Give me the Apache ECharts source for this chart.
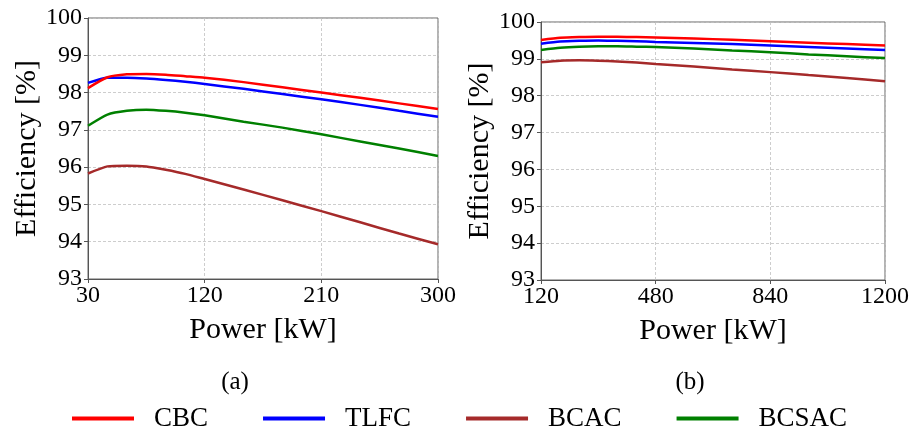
<!DOCTYPE html>
<html><head><meta charset="utf-8">
<script src="https://cdn.jsdelivr.net/npm/echarts@6/dist/echarts.min.js"></script>
<style>html,body{margin:0;padding:0;background:#fff}#c{width:912px;height:433px}</style>
</head><body><div id="c"></div>
<script>
// Left panel (a)
const powerA = [30,45,60,75,90,105,120,150,180,210,240,270,300];
const cbcA   = [98.12,98.41,98.49,98.50,98.48,98.44,98.40,98.28,98.14,98.00,97.86,97.71,97.56];
const tlfcA  = [98.26,98.40,98.40,98.38,98.34,98.29,98.23,98.10,97.96,97.82,97.67,97.51,97.35];
const bcacA  = [95.83,96.02,96.04,96.02,95.93,95.82,95.68,95.40,95.11,94.82,94.52,94.22,93.93];
const bcsacA = [97.11,97.41,97.51,97.54,97.51,97.46,97.39,97.22,97.06,96.88,96.69,96.50,96.30];
// Right panel (b)
const powerB = [120,180,240,300,360,420,480,600,720,840,960,1080,1200];
const cbcB   = [99.51,99.57,99.59,99.60,99.60,99.59,99.58,99.55,99.52,99.48,99.44,99.40,99.36];
const tlfcB  = [99.41,99.47,99.49,99.50,99.49,99.48,99.46,99.43,99.40,99.36,99.32,99.28,99.24];
const bcacB  = [98.91,98.95,98.96,98.95,98.93,98.90,98.86,98.79,98.71,98.64,98.56,98.48,98.39];
const bcsacB = [99.24,99.30,99.33,99.34,99.34,99.33,99.32,99.28,99.23,99.18,99.12,99.07,99.02];
const names = ['CBC','TLFC','BCAC','BCSAC'];
const colors = ['#ff0000','#0000ff','#a52a2a','#008000'];
const captions = ['(a)','(b)'];

const FONT = 'Liberation Serif';
const chart = echarts.init(document.getElementById('c'), null, {renderer:'canvas'});
function zip(x,y){return x.map((v,i)=>[v,y[i]]);}
const dataA=[cbcA,tlfcA,bcacA,bcsacA], dataB=[cbcB,tlfcB,bcacB,bcsacB];
const series=[];
names.forEach((n,i)=>{
  series.push({name:n,type:'line',xAxisIndex:0,yAxisIndex:0,data:zip(powerA,dataA[i]),symbol:'none',smooth:0.2,
    lineStyle:{color:colors[i],width:2.5},itemStyle:{color:colors[i]},z:10-i});
  series.push({name:n,type:'line',xAxisIndex:1,yAxisIndex:1,data:zip(powerB,dataB[i]),symbol:'none',smooth:0.2,
    lineStyle:{color:colors[i],width:2.5},itemStyle:{color:colors[i]},z:10-i});
});
function xAx(gi,min,max,interval){
  return {type:'value',gridIndex:gi,min:min,max:max,interval:interval,
    name:'Power [kW]',nameLocation:'middle',nameGap:36,
    nameTextStyle:{fontFamily:FONT,fontSize:30,color:'#000'},
    axisLine:{show:true,onZero:false,lineStyle:{color:'#555',width:1}},
    axisTick:{show:true,length:4,lineStyle:{color:'#555'}},
    axisLabel:{fontFamily:FONT,fontSize:24,color:'#000',margin:5,formatter:v=>String(v)},
    splitLine:{show:true,lineStyle:{color:'#c0c0c0',type:[3,2],width:0.8}}};
}
function yAx(gi){
  return {type:'value',gridIndex:gi,min:93,max:100,interval:1,
    name:'Efficiency [%]',nameLocation:'middle',nameGap:45,
    nameTextStyle:{fontFamily:FONT,fontSize:30,color:'#000'},
    axisLine:{show:true,lineStyle:{color:'#555',width:1}},
    axisTick:{show:true,length:4,lineStyle:{color:'#555'}},
    axisLabel:{fontFamily:FONT,fontSize:24,color:'#000',margin:6,formatter:v=>String(v)},
    splitLine:{show:true,lineStyle:{color:'#c0c0c0',type:[3,2],width:0.8}}};
}
chart.setOption({
  animation:false,
  backgroundColor:'#fff',
  textStyle:{fontFamily:FONT},
  title:[
    {text:captions[0],left:230,top:365,textAlign:'center',textStyle:{fontFamily:FONT,fontSize:25,fontWeight:'normal',color:'#000'}},
    {text:captions[1],left:685,top:365,textAlign:'center',textStyle:{fontFamily:FONT,fontSize:25,fontWeight:'normal',color:'#000'}}
  ],
  legend:{data:names,left:72,top:405,padding:0,icon:'rect',itemWidth:62,itemHeight:4,itemGap:55,
    textStyle:{fontFamily:FONT,fontSize:27,color:'#000',padding:[0,0,0,15]}},
  grid:[
    {left:88,top:18,width:350,height:261,show:true,borderColor:'#666',borderWidth:1,containLabel:false},
    {left:541,top:22,width:345,height:258,show:true,borderColor:'#666',borderWidth:1,containLabel:false}
  ],
  xAxis:[xAx(0,30,300,90),xAx(1,120,1200,360)],
  yAxis:[yAx(0),yAx(1)],
  series:series
});
</script></body></html>
